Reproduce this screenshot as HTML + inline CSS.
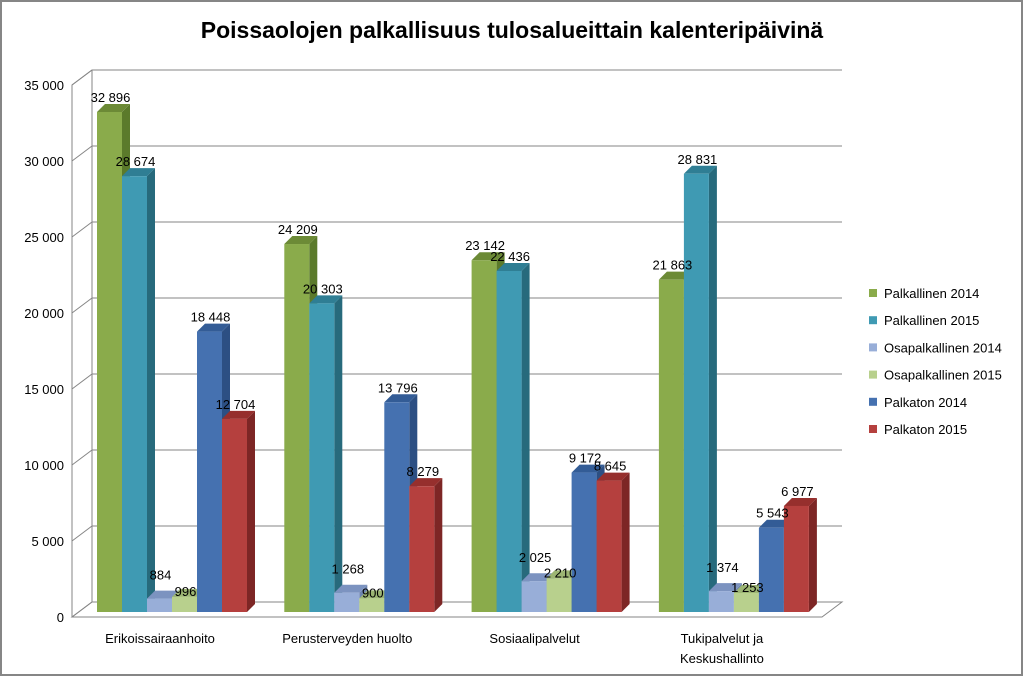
<!DOCTYPE html>
<html><head><meta charset="utf-8"><style>
html,body{margin:0;padding:0;background:#fff}
svg{display:block;font-family:"Liberation Sans",sans-serif}
</style></head><body>
<svg id="c" width="1024" height="677" viewBox="0 0 1024 677">
<rect x="1" y="1" width="1021" height="674" fill="#fff" stroke="#868686" stroke-width="2"/>
<text x="512" y="38" text-anchor="middle" font-size="23" font-weight="bold" fill="#000">Poissaolojen palkallisuus tulosalueittain kalenteripäivinä</text>
<g id="grid"></g><g id="bars"></g><g id="labels"></g><g id="legend"></g>
</svg>
<script>
const categories=["Erikoissairaanhoito","Perusterveyden huolto","Sosiaalipalvelut","Tukipalvelut ja|Keskushallinto"];
const seriesNames=["Palkallinen 2014","Palkallinen 2015","Osapalkallinen 2014","Osapalkallinen 2015","Palkaton 2014","Palkaton 2015"];
const palkallinen2014=[32896,24209,23142,21863];
const palkallinen2015=[28674,20303,22436,28831];
const osapalkallinen2014=[884,1268,2025,1374];
const osapalkallinen2015=[996,900,2210,1253];
const palkaton2014=[18448,13796,9172,5543];
const palkaton2015=[12704,8279,8645,6977];
const yTicks=[0,5000,10000,15000,20000,25000,30000,35000];
const seriesValues=[palkallinen2014,palkallinen2015,osapalkallinen2014,osapalkallinen2015,palkaton2014,palkaton2015];
const colors=[["#8aab4b","#6c8a36","#5b7a2b"],["#3f9ab3","#2f7e94","#276a7c"],["#98aed8","#7c93c0","#6d84b0"],["#b8d08d","#9cb573","#8aa363"],["#4571b0","#335c96","#2c4f83"],["#b5403e","#962f2d","#7d2625"]];
const NS="http://www.w3.org/2000/svg";
const k=0.0152, y0=617, fx=72, dx=20, dy=-15;
const yF=v=>y0-v*k;
const gx=i=>97+i*187.3;
function el(t,a,p){const e=document.createElementNS(NS,t);for(const q in a)e.setAttribute(q,a[q]);p.appendChild(e);return e;}
const grid=document.getElementById('grid');
// walls
el('polyline',{points:`${fx},${yF(0)} ${fx},${yF(35000)} ${fx+dx},${yF(35000)+dy}`,fill:'none',stroke:'#868686'},grid);
el('polygon',{points:`${fx},${y0} ${fx+dx},${y0+dy} 842,${y0+dy} 822,${y0}`,fill:'none',stroke:'#868686'},grid);
yTicks.forEach(t=>{
  const y=yF(t);
  const l=el('polyline',{points:`${fx},${y} ${fx+dx},${y+dy} 842,${y+dy}`,fill:'none',stroke:'#868686'},grid);
  
  
  const tx=el('text',{x:fx-8,y:y+5,'text-anchor':'end','font-size':13,fill:'#000'},grid);
  tx.textContent=t===0?'0':(t/1000)+' 000';
  
  
});
el('line',{x1:fx+dx,y1:yF(35000)+dy,x2:fx+dx,y2:y0+dy,stroke:'#868686'},grid);
const bars=document.getElementById('bars'),labels=document.getElementById('labels');
const fmt=v=>String(v).replace(/\B(?=(\d{3})+(?!\d))/g,' ');
const lblOff=[-15,-15,-24,-6,-15,-15];
categories.forEach((c,ci)=>{
  seriesValues.forEach((arr,si)=>{
    const v=arr[ci], x=gx(ci)+25*si, w=25, base=612, top=base-v*k, d=8;
    const g=el('g',{},bars);
    
    
    el('polygon',{points:`${x+w},${base} ${x+w+d},${base-d} ${x+w+d},${top-d} ${x+w},${top}`,fill:colors[si][2]},g);
    el('polygon',{points:`${x},${top} ${x+d},${top-d} ${x+w+d},${top-d} ${x+w},${top}`,fill:colors[si][1]},g);
    el('rect',{x:x,y:top,width:w,height:base-top,fill:colors[si][0]},g);
    const t=el('text',{x:x+w/2+1,y:top+lblOff[si]+5,'text-anchor':'middle','font-size':13,fill:'#000'},labels);
    t.textContent=fmt(v);
    
    
  });
  const parts=c.split('|');
  parts.forEach((p,pi)=>{
    const t=el('text',{x:gx(ci)+63,y:643+pi*20,'text-anchor':'middle','font-size':13,fill:'#000'},grid);
    t.textContent=p;
    
    
  });
});
const lg=document.getElementById('legend');
seriesNames.forEach((n,i)=>{
  const g=el('g',{},lg);
  
  
  const y=293+i*27.2;
  el('rect',{x:869,y:y-4,width:8,height:8,fill:colors[i][0]},g);
  const t=el('text',{x:884,y:y+5,'font-size':13,fill:'#000'},g);
  t.textContent=n;
});
</script>
</body></html>
